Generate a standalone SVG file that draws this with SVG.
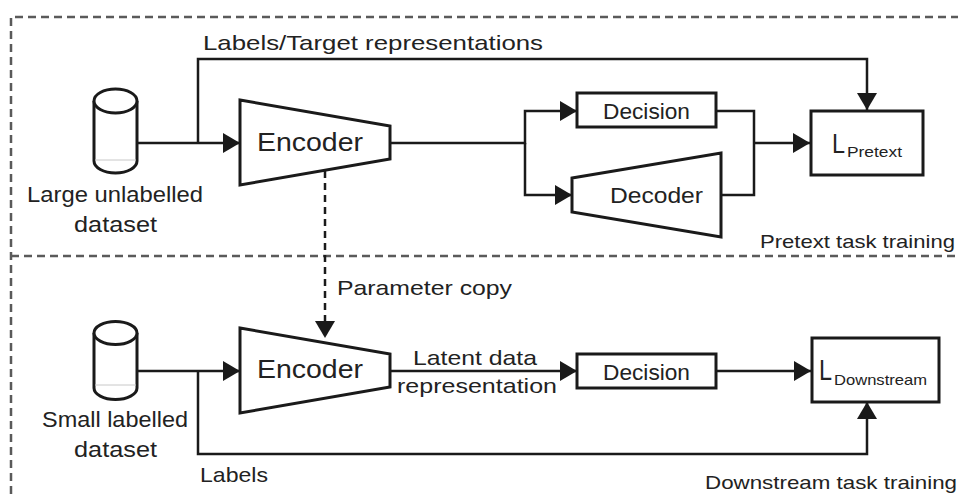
<svg xmlns="http://www.w3.org/2000/svg" width="961" height="494" viewBox="0 0 961 494">
  <defs>
    <marker id="arrow" markerUnits="userSpaceOnUse" markerWidth="18" markerHeight="20" refX="17" refY="10" orient="auto">
      <path d="M0,0 L17,10 L0,20 z" fill="#1a1a1a"/>
    </marker>
    <style>
      .frame { fill: none; stroke: #5a5a5a; stroke-width: 2.5; stroke-dasharray: 8 5; }
      .shape { fill: #fff; stroke: #1a1a1a; stroke-width: 3; }
      .conn { fill: none; stroke: #1a1a1a; stroke-width: 2.5; }
      .conn-dash { fill: none; stroke: #1a1a1a; stroke-width: 2.5; stroke-dasharray: 7 5; }
      .faint { stroke: #c8c8c8; stroke-width: 1; }
      text { font-family: "Liberation Sans", Arial, sans-serif; fill: #222; }
      .lbl { font-size: 21px; }
      .big { font-size: 26px; }
      .mid { font-size: 22.5px; }
      .sub { font-size: 15.5px; }
      .cap { font-size: 19px; }
    </style>
  </defs>
  <rect width="961" height="494" fill="#fff"/>

  <g id="frames">
    <path class="frame" d="M11,494 V17 H958"/>
    <path class="frame" d="M11,256 H955"/>
    <text class="cap" x="760" y="248" textLength="195" lengthAdjust="spacingAndGlyphs">Pretext task training</text>
    <text class="cap" x="705" y="489" textLength="252" lengthAdjust="spacingAndGlyphs">Downstream task training</text>
  </g>

  <g id="connectors">
    <path class="conn" d="M137,143 H240" marker-end="url(#arrow)"/>
    <path class="conn" d="M198,143 V59 H867 V110" marker-end="url(#arrow)"/>
    <path class="conn" d="M390,143 H525 V111 H577" marker-end="url(#arrow)"/>
    <path class="conn" d="M525,143 V195 H572" marker-end="url(#arrow)"/>
    <path class="conn" d="M716,111 H754 V195 H722"/>
    <path class="conn" d="M754,143 H810" marker-end="url(#arrow)"/>
    <path class="conn-dash" d="M325,171 V338" marker-end="url(#arrow)"/>
    <path class="conn" d="M137,371 H240" marker-end="url(#arrow)"/>
    <path class="conn" d="M198,371 V454 H867 V402" marker-end="url(#arrow)"/>
    <path class="conn" d="M390,371 H577" marker-end="url(#arrow)"/>
    <path class="conn" d="M716,371 H811" marker-end="url(#arrow)"/>
    <text class="lbl" x="203" y="50" textLength="340" lengthAdjust="spacingAndGlyphs">Labels/Target representations</text>
    <text class="lbl" x="337" y="295" textLength="175" lengthAdjust="spacingAndGlyphs">Parameter copy</text>
    <text class="lbl" x="413" y="365" textLength="124" lengthAdjust="spacingAndGlyphs">Latent data</text>
    <text class="lbl" x="397" y="393" textLength="160" lengthAdjust="spacingAndGlyphs">representation</text>
    <text class="lbl" x="200" y="482" textLength="68" lengthAdjust="spacingAndGlyphs">Labels</text>
  </g>

  <g id="large-dataset">
    <path class="shape" d="M94,101 V161 A21.5,12 0 0 0 137,161 V101"/>
    <line class="faint" x1="95" y1="160" x2="136" y2="160"/>
    <ellipse class="shape" cx="115.5" cy="101" rx="21.5" ry="12"/>
    <text class="mid" x="27" y="202" textLength="176" lengthAdjust="spacingAndGlyphs">Large unlabelled</text>
    <text class="mid" x="74" y="232" textLength="83" lengthAdjust="spacingAndGlyphs">dataset</text>
  </g>

  <g id="encoder-pretext">
    <polygon class="shape" points="240,100 390,126 390,159 240,185"/>
    <text class="big" x="257" y="151" textLength="106" lengthAdjust="spacingAndGlyphs">Encoder</text>
  </g>

  <g id="decision-pretext">
    <rect class="shape" x="577" y="93" width="139" height="34"/>
    <text class="mid" x="603" y="119" textLength="87" lengthAdjust="spacingAndGlyphs">Decision</text>
  </g>

  <g id="decoder">
    <polygon class="shape" points="572,178 721,153 721,237 572,212"/>
    <text class="mid" x="610" y="203" textLength="93" lengthAdjust="spacingAndGlyphs">Decoder</text>
  </g>

  <g id="loss-pretext">
    <rect class="shape" x="811" y="111" width="112" height="64"/>
    <text x="832" y="153" textLength="13" lengthAdjust="spacingAndGlyphs" style="font-size:28px">L</text>
    <text class="sub" x="847" y="157" textLength="55" lengthAdjust="spacingAndGlyphs">Pretext</text>
  </g>

  <g id="small-dataset">
    <path class="shape" d="M94,333 V388 A21.5,11.5 0 0 0 137,388 V333"/>
    <line class="faint" x1="95" y1="385" x2="136" y2="385"/>
    <ellipse class="shape" cx="115.5" cy="333" rx="21.5" ry="11.5"/>
    <text class="mid" x="42" y="427" textLength="146" lengthAdjust="spacingAndGlyphs">Small labelled</text>
    <text class="mid" x="74" y="457" textLength="83" lengthAdjust="spacingAndGlyphs">dataset</text>
  </g>

  <g id="encoder-downstream">
    <polygon class="shape" points="240,328 390,354 390,387 240,413"/>
    <text class="big" x="257" y="378" textLength="106" lengthAdjust="spacingAndGlyphs">Encoder</text>
  </g>

  <g id="decision-downstream">
    <rect class="shape" x="577" y="354" width="139" height="34"/>
    <text class="mid" x="603" y="380" textLength="87" lengthAdjust="spacingAndGlyphs">Decision</text>
  </g>

  <g id="loss-downstream">
    <rect class="shape" x="812" y="338" width="127" height="64"/>
    <text x="819" y="380" textLength="13" lengthAdjust="spacingAndGlyphs" style="font-size:29px">L</text>
    <text class="sub" x="834" y="385" textLength="93" lengthAdjust="spacingAndGlyphs" style="font-size:15px">Downstream</text>
  </g>
</svg>
